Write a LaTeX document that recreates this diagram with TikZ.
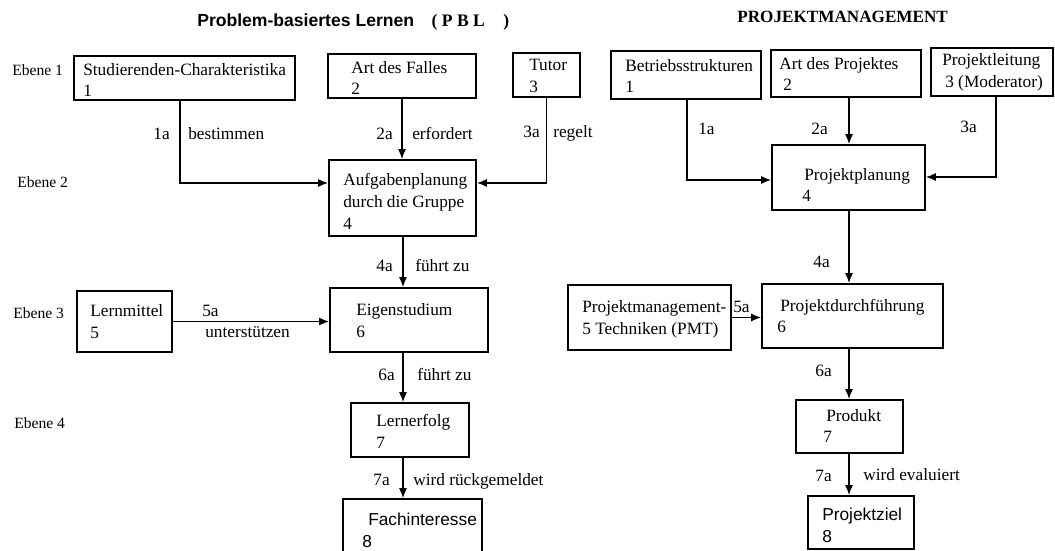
\documentclass[tikz,border=0pt]{standalone}
\usepackage{fontspec}
\setmainfont{Liberation Serif}
\setsansfont{Liberation Sans}
\usetikzlibrary{arrows.meta}

\begin{document}
\begin{tikzpicture}[x=0.025cm,y=-0.025cm,
  box/.style={draw,line width=1.1pt,inner sep=0pt},
  txt/.style={anchor=west,align=left,inner sep=0pt,font=\fontsize{12.3}{15.6}\selectfont},
  lbl/.style={inner sep=0pt,text height=1.5ex,text depth=.25ex,font=\fontsize{12.3}{15}\selectfont},
  arr/.style={line width=1.1pt,-{Latex[length=2.5mm,width=2mm]}}]
  \clip (0,0) rectangle (1055,551);
  % titles
  \node[txt,font=\fontsize{12.5}{15}\selectfont\bfseries] (tpbl) at (197,22) {{\sffamily Problem-basiertes Lernen}\quad( P B L \hspace{10pt})};
  \node[txt,font=\fontsize{12.2}{15}\selectfont\bfseries] (tpm) at (737,17) {PROJEKTMANAGEMENT};
  \node[txt,font=\fontsize{11.1}{14}\selectfont] (e1) at (12,70) {Ebene 1};
  \node[txt,font=\fontsize{11.1}{14}\selectfont] (e2) at (17,182) {Ebene 2};
  \node[txt,font=\fontsize{11.1}{14}\selectfont] (e3) at (13,313) {Ebene 3};
  \node[txt,font=\fontsize{11.1}{14}\selectfont] (e4) at (14,423) {Ebene 4};
  % PBL boxes
  \node[box,minimum width=5.525cm,minimum height=1.1cm] (s1) at (184.5,78) {};
  \node[box,minimum width=3.7cm,minimum height=1.1cm] (s2) at (402,76) {};
  \node[box,minimum width=1.675cm,minimum height=1.1cm] (s3) at (546.5,75) {};
  \node[box,minimum width=3.675cm,minimum height=1.9cm] (s4) at (402.5,198) {};
  \node[box,minimum width=2.375cm,minimum height=1.525cm] (s5) at (124.5,321.5) {};
  \node[box,minimum width=3.95cm,minimum height=1.6cm] (s6) at (409,320) {};
  \node[box,minimum width=2.95cm,minimum height=1.35cm] (s7) at (410,430) {};
  \node[box,minimum width=3.475cm,minimum height=1.775cm] (s8) at (412.5,534.5) {};
  \node[txt] (s1t) at (83,80) {Studierenden-Charakteristika\\1};
  \node[txt] (s2t) at (351,78) {Art des Falles\\2};
  \node[txt] (s3t) at (529,76) {Tutor\\3};
  \node[txt] (s4t) at (343,201) {Aufgabenplanung\\durch die Gruppe\\4};
  \node[txt] (s5t) at (90,322) {Lernmittel\\5};
  \node[txt] (s6t) at (356,321) {Eigenstudium\\6};
  \node[txt] (s7t) at (376,431) {Lernerfolg\\7};
  \node[txt,font=\fontsize{12.3}{15.6}\selectfont\sffamily] (s8t) at (362,530) {\hspace*{1.5mm}Fachinteresse\\8};
  % PM boxes
  \node[box,minimum width=3.75cm,minimum height=1.2cm] (p1) at (686,75) {};
  \node[box,minimum width=3.75cm,minimum height=1.175cm] (p2) at (846,73.5) {};
  \node[box,minimum width=3.05cm,minimum height=1.2cm] (p3) at (992,72) {};
  \node[box,minimum width=3.825cm,minimum height=1.625cm] (p4) at (848.5,177.5) {};
  \node[box,minimum width=4.075cm,minimum height=1.625cm] (p5) at (649.5,317.5) {};
  \node[box,minimum width=4.525cm,minimum height=1.6cm] (p6) at (852.5,316) {};
  \node[box,minimum width=2.675cm,minimum height=1.325cm] (p7) at (849.5,426.5) {};
  \node[box,minimum width=2.65cm,minimum height=1.325cm] (p8) at (861,522.5) {};
  \node[txt] (p1t) at (625,76) {Betriebsstrukturen\\1};
  \node[txt] (p2t) at (779,74) {Art des Projektes\\\hspace*{1mm}2};
  \node[txt] (p3t) at (942,72) {Projektleitung\\\hspace*{0.75mm}3 (Moderator)};
  \node[txt] (p4t) at (802,185) {\hspace*{0.5mm}Projektplanung\\4};
  \node[txt] (p5t) at (582,319) {Projektmanagement-\\5 Techniken (PMT)};
  \node[txt] (p6t) at (777,316) {\hspace*{0.75mm}Projektdurchführung\\6};
  \node[txt] (p7t) at (823,426) {\hspace*{0.75mm}Produkt\\7};
  \node[txt,font=\fontsize{12.3}{15.6}\selectfont\sffamily] (p8t) at (822,525) {Projektziel\\8};
  % connectors
  \coordinate (c1) at (403,0);
  \coordinate (c2) at (849,0);
  \coordinate (k1) at (180,183);
  \coordinate (k2) at (687,180);
  \coordinate (k3) at (996,177);
  \draw[arr](s1.south -| k1) |- (s4.west |- k1);
  \draw[arr](s2.south) -- (s2.south |- s4.north);
  \draw[arr](s3.south) |- (s4.east |- k1);
  \draw[arr](s4.south -| c1) -- (s6.north -| c1);
  \draw[arr](s5.east) -- (s5.east -| s6.west);
  \draw[arr](s6.south -| c1) -- (s7.north -| c1);
  \draw[arr](s7.south -| c1) -- (s8.north -| c1);
  \draw[arr](p1.south -| k2) |- (p4.west |- k2);
  \draw[arr](p2.south -| c2) -- (p4.north -| c2);
  \draw[arr](p3.south -| k3) |- (p4.east |- k3);
  \draw[arr](p4.south -| c2) -- (p6.north -| c2);
  \draw[arr](p5.east) -- (p5.east -| p6.west);
  \draw[arr](p6.south -| c2) -- (p7.north -| c2);
  \draw[arr](p7.south -| c2) -- (p8.north -| c2);
  % connector labels
  \node[lbl,anchor=east] (l1a) at (170,135) {1a};
  \node[lbl,anchor=west] (l1b) at (188,135) {bestimmen};
  \node[lbl,anchor=east] (l2a) at (393,135) {2a};
  \node[lbl,anchor=west] (l2b) at (412,135) {erfordert};
  \node[lbl,anchor=east] (l3a) at (540,133) {3a};
  \node[lbl,anchor=west] (l3b) at (553,133) {regelt};
  \node[lbl,anchor=east] (l4a) at (393,267) {4a};
  \node[lbl,anchor=west] (l4b) at (415,267) {führt zu};
  \node[lbl,anchor=west] (l5a) at (202,312) {5a};
  \node[lbl,anchor=west] (l5b) at (205,333) {unterstützen};
  \node[lbl,anchor=east] (l6a) at (395,376) {6a};
  \node[lbl,anchor=west] (l6b) at (417,376) {führt zu};
  \node[lbl,anchor=east] (l7a) at (390,481) {7a};
  \node[lbl,anchor=west] (l7b) at (413,481) {wird rückgemeldet};
  \node[lbl,anchor=west] (m1a) at (698,130) {1a};
  \node[lbl,anchor=east] (m2a) at (828,130) {2a};
  \node[lbl,anchor=east] (m3a) at (977,128) {3a};
  \node[lbl,anchor=east] (m4a) at (830,263) {4a};
  \node[lbl,anchor=west] (m5a) at (733,308) {5a};
  \node[lbl,anchor=east] (m6a) at (832,372) {6a};
  \node[lbl,anchor=east] (m7a) at (832,477) {7a};
  \node[lbl,anchor=west] (m7b) at (863,476) {wird evaluiert};
\end{tikzpicture}
\end{document}
